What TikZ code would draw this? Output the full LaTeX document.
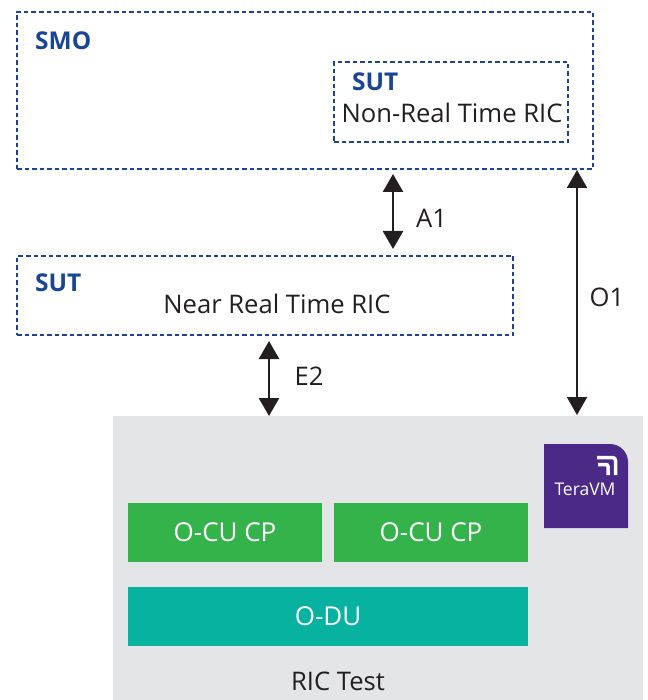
\documentclass[tikz,border=0pt]{standalone}
\usepackage{fontspec}
\setmainfont{Open Sans}
\usetikzlibrary{arrows.meta}
\definecolor{vblue}{HTML}{1A4595}
\definecolor{vgrey}{HTML}{E4E5E7}
\definecolor{vgreen}{HTML}{33B34A}
\definecolor{vteal}{HTML}{07B2A0}
\definecolor{vpurple}{HTML}{4B2A87}
\definecolor{vtext}{HTML}{231F20}
\begin{document}
\begin{tikzpicture}[x=1pt,y=-1pt,
dashbox/.style = {draw=vblue,
	line width=2pt,
	dash pattern=on 4.5pt off 3pt,
	outer sep=0pt},
block/.style = {minimum width=194pt,
	minimum height=59pt,
	outer sep=0pt,
	text=white,
	font=\fontsize{26}{30}\selectfont},
title/.style = {text=vblue,
	font=\fontsize{24.5}{28}\selectfont\bfseries},
plain/.style = {text=vtext,
	font=\fontsize{25.6}{29}\selectfont}, 
link/.style = {{Triangle[width=20pt,length=18pt]}-{Triangle[width=20pt,length=18pt]},
	draw=vtext,
	line width=2.6pt}]

\useasboundingbox (0,0) rectangle (647,700);

\node (test) at (378,558) [minimum width=530pt, minimum height=284pt, outer sep=0pt, fill=vgrey] {};
\fill[vpurple] (544,444) [rounded corners=18pt] -- (628,444) [sharp corners] -- (628,528) -- (544,528) -- cycle;

\node (smo) at (305,90.5) [dashbox, minimum width=576pt, minimum height=157pt] {};
\node (nonrt) at (451,102) [dashbox, minimum width=234pt, minimum height=80pt] {};
\node (nearrt) at (265,295.5) [dashbox, minimum width=496pt, minimum height=79pt] {};

\node (smolabel) at (35,41) [title, anchor=west, inner sep=0pt] {SMO};
\node (sutnon) at (352,82) [title, anchor=west, inner sep=0pt] {SUT};
\node (sutnear) at (35,283) [title, anchor=west, inner sep=0pt] {SUT};
\node (nonlabel) at (452,113) [plain] {Non-Real Time RIC};
\node (nearlabel) at (277,304) [plain] {Near Real Time RIC};

\node (cu1) at (225,532.5) [block, fill=vgreen] {O-CU CP};
\node (cu2) at (431,532.5) [block, fill=vgreen] {O-CU CP};
\node (du) at (328,616.5) [block, fill=vteal, minimum width=400pt] {O-DU};
\node (testlabel) at (338,681) [plain] {RIC Test};

\node (tera) at (585,489) [text=white, font=\fontsize{17.5}{20}\selectfont] {TeraVM};
\draw[white, line width=3.5pt, rounded corners=3pt] (597,457.5) -- (615.5,457.5) -- (615.5,475);
\draw[white, line width=3.5pt, rounded corners=2pt] (598,464.5) -- (608,464.5) -- (608,475);

\coordinate (a1x) at (393,0);
\coordinate (e2x) at (269,0);
\coordinate (o1x) at (577,0);

\draw[link, shorten <=5pt, shorten >=7pt] (smo.south -| a1x) -- (nearrt.north -| a1x);
\draw[link, shorten <=6pt] (nearrt.south -| e2x) -- (test.north -| e2x);
\draw[link, line width=2pt, shorten <=1pt, shorten >=1pt] (smo.south -| o1x) -- (test.north -| o1x);

\node (a1) at (431.5,218) [plain] {A1};
\node (e2) at (309,376) [plain] {E2};
\node (o1) at (607,297) [plain] {O1};
\end{tikzpicture}
\end{document}
